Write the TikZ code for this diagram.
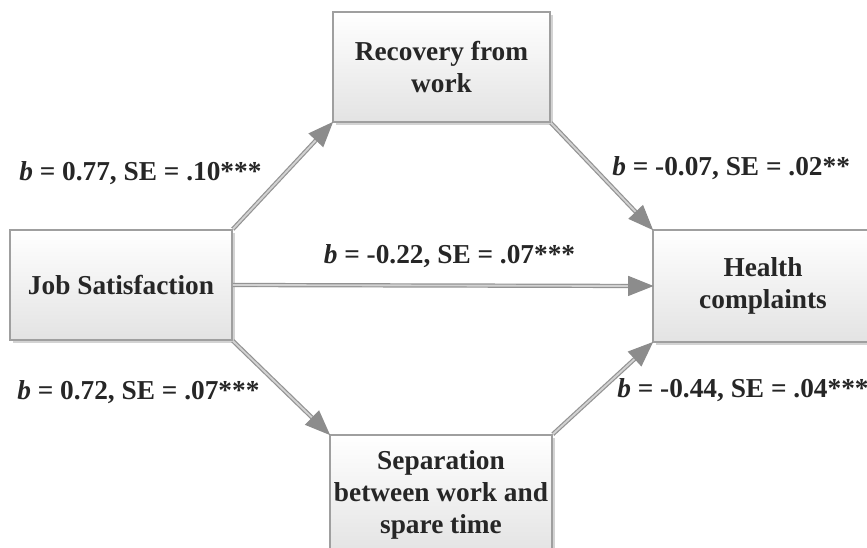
\documentclass[tikz,border=0pt]{standalone}
\usepackage{fontspec}
\setmainfont{Liberation Serif}
\usetikzlibrary{arrows.meta,shadows}
\begin{document}
\begin{tikzpicture}[x=0.75pt,y=-0.75pt,
  box/.style={draw=gray!75,line width=1.2pt,top color=white,bottom color=gray!22,
    align=center,font=\fontsize{20.5}{24}\selectfont\bfseries,text=black!85,
    inner sep=0pt,
    drop shadow={shadow xshift=2pt,shadow yshift=-2pt,opacity=0.35,fill=gray}},
  conn/.style={draw=gray!85,line width=0.9pt,double=gray!35,double distance=1.4pt,
    -{Triangle[length=19pt,width=15pt,color=gray!90,fill=gray!90]},shorten >=-1pt},
  lab/.style={font=\fontsize{20.5}{24}\selectfont\bfseries,text=black!85,inner sep=0pt}]
\useasboundingbox (0,0) rectangle (867,547);
\node[box,minimum width={222*0.75pt},minimum height={110*0.75pt}] (job) at (121,285) {Job Satisfaction};
\node[box,minimum width={217*0.75pt},minimum height={110*0.75pt}] (rec) at (441.5,67) {Recovery from\\work};
\node[box,minimum width={222*0.75pt},minimum height={120*0.75pt}] (sep) at (441,495) {Separation\\between work and\\spare time};
\node[box,minimum width={220*0.75pt},minimum height={112*0.75pt}] (hea) at (763,286) {Health\\complaints};
\draw[conn] (job.north east) -- (rec.south west);
\draw[conn] (rec.south east) -- (hea.north west);
\draw[conn] (job.east) -- (hea.west);
\draw[conn] (job.south east) -- (sep.north west);
\draw[conn] (sep.north east) -- (hea.south west);
\node[lab,anchor=west] (l1) at (19,173) {\textit{b} = 0.77, SE = .10***};
\node[lab,anchor=west] (l2) at (612,168) {\textit{b} = -0.07, SE = .02**};
\node[lab] (l3) at (449.5,256) {\textit{b} = -0.22, SE = .07***};
\node[lab,anchor=west] (l4) at (17,392) {\textit{b} = 0.72, SE = .07***};
\node[lab,anchor=west] (l5) at (617,390) {\textit{b} = -0.44, SE = .04***};
\end{tikzpicture}
\end{document}
